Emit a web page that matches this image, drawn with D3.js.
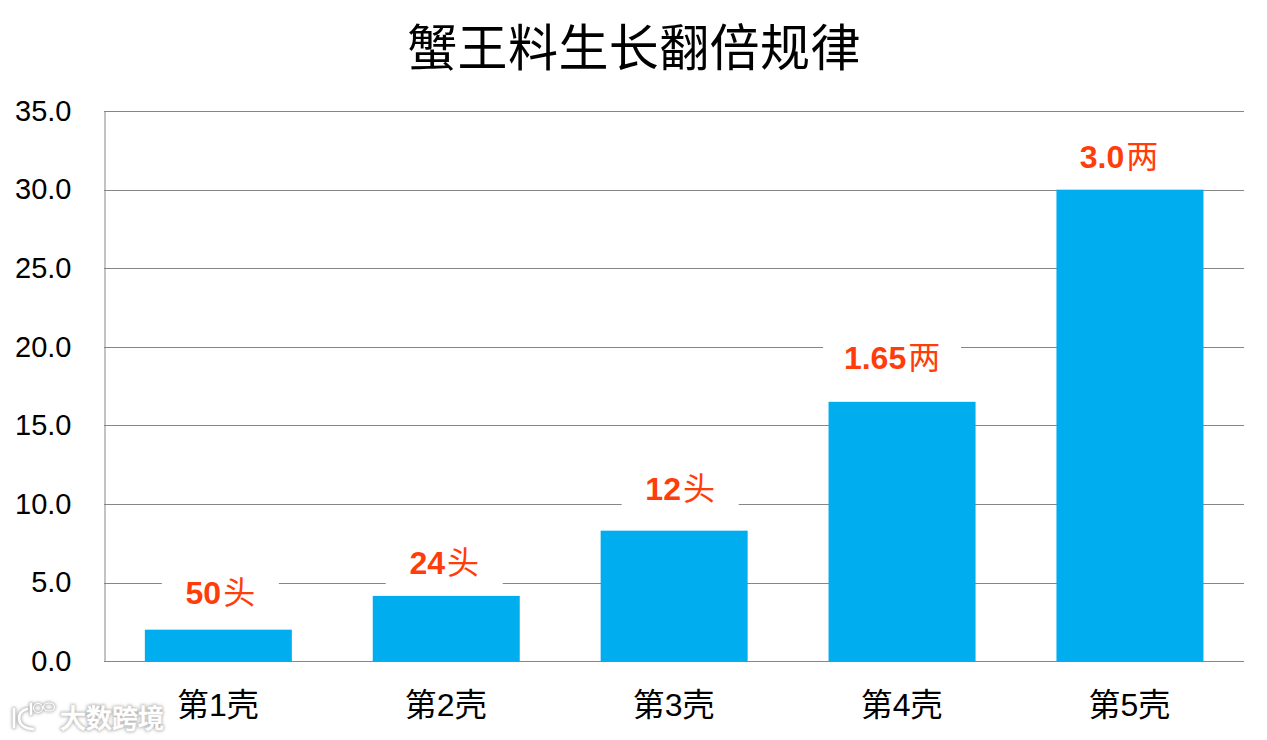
<!DOCTYPE html>
<html lang="zh">
<head>
<meta charset="utf-8">
<script src="https://cdn.jsdelivr.net/npm/d3@7/dist/d3.min.js"></script>
<style>
html,body{margin:0;padding:0;background:#fff;}
svg{display:block;}
</style>
</head>
<body>
<svg id="c" width="1267" height="740"></svg>
<script>
const titleText = "蟹王料生长翻倍规律";
const categories = ["第1壳","第2壳","第3壳","第4壳","第5壳"];
const values = [2.0,4.15,8.3,16.5,30.0];
const labelNumbers = ["50","24","12","1.65","3.0"];
const labelUnits = ["头","头","头","两","两"];
const yTicks = [0,5,10,15,20,25,30,35];

const cjk = '"Noto Sans CJK SC","Noto Sans",sans-serif';
const latin = '"Liberation Sans",Arial,sans-serif';
const svg = d3.select("#c");
const x = d3.scaleBand().domain(categories).range([104.4,1243.9]).paddingInner(0.355).paddingOuter(0.1775);
const y = d3.scaleLinear().domain([0,35]).range([661.1,111.1]);

// the value labels were placed by hand in the source, so they sit off-centre
const labelShiftX = [2,-2,6,-10,-11];
const labelLift = [37,33,42,44,33];

svg.append("text").attr("x",634).attr("y",66).attr("text-anchor","middle")
  .style("font-family",cjk).style("font-size","50px").style("letter-spacing","0.4px").attr("fill","#000").text(titleText);

const yAxis = d3.axisLeft(y).tickValues(yTicks).tickFormat(d3.format(".1f")).tickSize(0).tickPadding(33);
const gy = svg.append("g").attr("transform","translate(104.5,0)").call(yAxis);
gy.select(".domain").attr("stroke","#868686").attr("stroke-width",1);
gy.selectAll("text").attr("fill","#000").style("font-family",latin).style("font-size","29px").attr("dy","0.32em");
gy.selectAll("line").remove();

svg.append("g").selectAll("line").data(yTicks).join("line")
  .attr("x1",104).attr("x2",1244)
  .attr("y1",d=>Math.round(y(d))+0.5).attr("y2",d=>Math.round(y(d))+0.5)
  .attr("stroke","#868686").attr("stroke-width",1);

const W = x.bandwidth();
const idx = d3.range(categories.length);
const cx = i => x(categories[i])+W/2+labelShiftX[i];
const cy = i => y(values[i])-labelLift[i];

// white plates behind the value labels
svg.append("g").selectAll("rect").data(idx).join("rect")
  .attr("x",i=>cx(i)-(labelNumbers[i].length>3?69:58.5))
  .attr("width",i=>labelNumbers[i].length>3?138:117)
  .attr("y",i=>cy(i)-24).attr("height",48).attr("fill","#fff");

svg.append("g").selectAll("rect").data(idx).join("rect")
  .attr("x",i=>x(categories[i])).attr("width",W)
  .attr("y",i=>y(values[i])).attr("height",i=>y(0)-y(values[i])+0.5).attr("fill","#00AEEF");

const lab = svg.append("g").selectAll("text").data(idx).join("text")
  .attr("x",cx).attr("y",i=>cy(i)+11)
  .attr("text-anchor","middle").attr("fill","#FF3D0A");
lab.append("tspan").style("font-family",latin).style("font-size","32px").style("font-weight",700).text(i=>labelNumbers[i]);
lab.append("tspan").attr("dx",2).style("font-family",cjk).style("font-size","32px").style("font-weight",400).text(i=>labelUnits[i]);

const cat = svg.append("g").selectAll("text").data(categories).join("text")
  .attr("x",d=>x(d)+W/2-0.5).attr("y",716).attr("text-anchor","middle").attr("fill","#000");
cat.append("tspan").style("font-family",cjk).style("font-size","32px").text(d=>d[0]);
cat.append("tspan").style("font-family",latin).style("font-size","32px").text(d=>d[1]);
cat.append("tspan").style("font-family",cjk).style("font-size","32px").text(d=>d[2]);

// watermark: white glyphs on a soft grey halo
const defs = svg.append("defs");
defs.append("filter").attr("id","halo").attr("x","-20%").attr("y","-40%").attr("width","140%").attr("height","180%")
  .append("feGaussianBlur").attr("stdDeviation",1.4);
const logoPaths = ["M14 709 L14 727","M27 709 C16 711 15 728 33 729","M31 704 L31 714"];
function drawWatermark(g, color, sw){
  g.append("text").attr("x",60).attr("y",728).style("font-family",cjk).style("font-size","26px").style("font-weight",500)
    .attr("fill",color).attr("stroke",color).attr("stroke-width",sw).text("大数跨境");
  g.selectAll("path").data(logoPaths).join("path").attr("d",d=>d)
    .attr("fill","none").attr("stroke",color).attr("stroke-width",sw+2).attr("stroke-linecap","round");
  g.selectAll("ellipse").data([[38,708,4.5,4.5],[49,707,5.5,4]]).join("ellipse")
    .attr("cx",d=>d[0]).attr("cy",d=>d[1]).attr("rx",d=>d[2]).attr("ry",d=>d[3])
    .attr("fill","none").attr("stroke",color).attr("stroke-width",sw+0.6);
}
drawWatermark(svg.append("g").attr("filter","url(#halo)"),"#b5b5b5",2.5);
drawWatermark(svg.append("g"),"#ffffff",0.6);
</script>
</body>
</html>
